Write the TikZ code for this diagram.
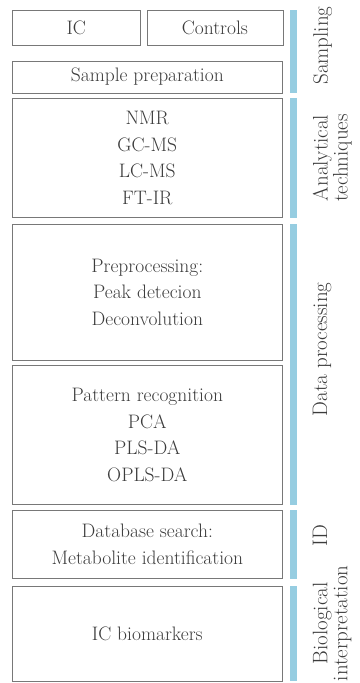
\documentclass[tikz,border=0pt]{standalone}
\usepackage{tikz}
\usetikzlibrary{positioning,calc}
\definecolor{flowedge}{RGB}{120,120,120}
\definecolor{flowink}{RGB}{60,60,60}
\definecolor{flowbar}{RGB}{150,205,225}
\tikzset{
  stagebox/.style={
    draw=flowedge, line width=0.6pt, align=center, text=flowink,
    font=\fontsize{19.5}{26.5}\selectfont, inner sep=2pt
  },
  wide/.style={stagebox, minimum width=270pt},
  bar/.style={fill=flowbar},
  phase/.style={
    rotate=90, anchor=north, align=center, text=flowink,
    font=\fontsize{21}{20}\selectfont, inner sep=0pt
  }
}

\begin{document}
\begin{tikzpicture}[x=1pt, y=1pt]
  \useasboundingbox (0,0) rectangle (359,-683);
  % stages
  \node[stagebox, minimum width=128pt, minimum height=35pt, anchor=north west] (ic) at (12,-10) {IC};
  \node[stagebox, minimum width=136pt, minimum height=35pt, right=6pt of ic] (ctrl) {Controls};
  \node[wide, minimum height=32pt, below right=15pt and 0pt of ic.south west] (prep) {Sample preparation};
  \node[wide, minimum height=119pt, below=5pt of prep] (tech) {NMR\\GC-MS\\LC-MS\\FT-IR};
  \node[wide, minimum height=136pt, below=6pt of tech] (proc) {Preprocessing:\\Peak detecion\\Deconvolution};
  \node[wide, minimum height=139pt, below=5pt of proc] (patt) {Pattern recognition\\PCA\\PLS-DA\\OPLS-DA};
  \node[wide, minimum height=68pt, below=5pt of patt] (db) {Database search:\\Metabolite identification};
  \node[wide, minimum height=95pt, below=7pt of db] (bio) {IC biomarkers};
  % side bars
  \fill[bar] ($(ctrl.north east)+(7pt,0)$) rectangle ($(prep.south east)+(14pt,0)$);
  \fill[bar] ($(tech.north east)+(7pt,0)$) rectangle ($(tech.south east)+(14pt,0)$);
  \fill[bar] ($(proc.north east)+(7pt,0)$) rectangle ($(patt.south east)+(14pt,0)$);
  \fill[bar] ($(db.north east)+(7pt,0)$) rectangle ($(db.south east)+(14pt,0)$);
  \fill[bar] ($(bio.north east)+(7pt,0)$) rectangle ($(bio.south east)+(14pt,0)$);
  % phase labels
  \node[phase] (lsamp) at ($(ctrl.north east)!0.5!(prep.south east)+(30pt,6pt)$) {Sampling};
  \node[phase] (ltech) at ($(tech.north east)!0.5!(tech.south east)+(30pt,0)$) {Analytical\\techniques};
  \node[phase] (lproc) at ($(proc.north east)!0.5!(patt.south east)+(30pt,15pt)$) {Data processing};
  \node[phase] (lid) at ($(db.north east)!0.5!(db.south east)+(30pt,9pt)$) {ID};
  \node[phase] (lbio) at ($(bio.north east)!0.5!(bio.south east)+(30pt,10pt)$) {Biological\\interpretation};
\end{tikzpicture}
\end{document}
